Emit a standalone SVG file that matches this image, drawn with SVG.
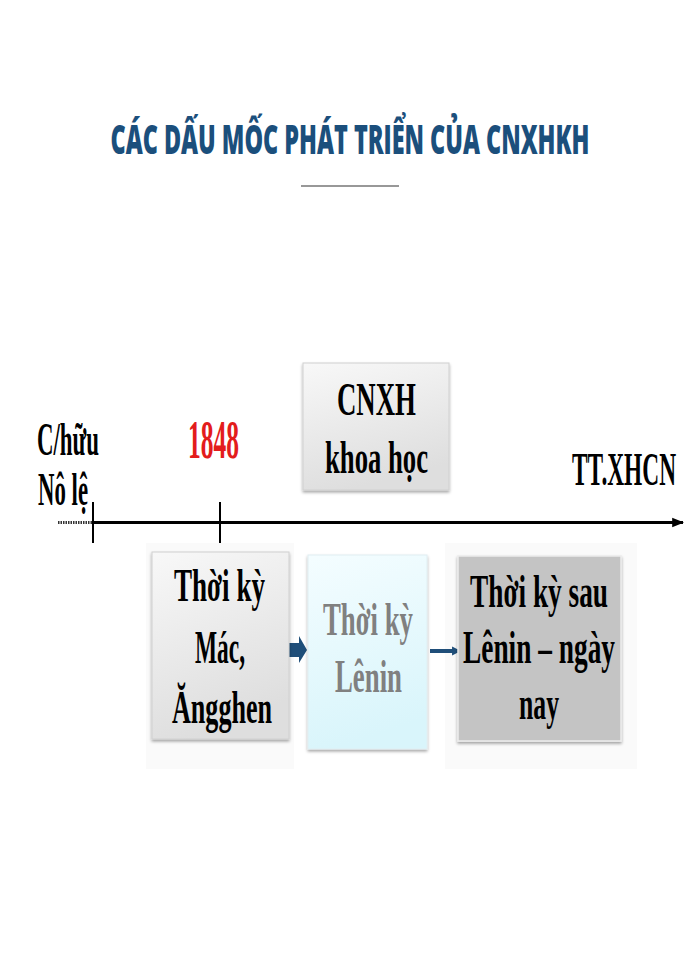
<svg xmlns="http://www.w3.org/2000/svg" width="700" height="960" viewBox="0 0 700 960">
<defs>
<linearGradient id="gGray" x1="0" y1="0" x2="0.3" y2="1">
<stop offset="0" stop-color="#f8f8f8"/>
<stop offset="1" stop-color="#dedede"/>
</linearGradient>
<linearGradient id="gCyan" x1="0" y1="0" x2="0.2" y2="1">
<stop offset="0" stop-color="#f4fdff"/>
<stop offset="1" stop-color="#d9f5fb"/>
</linearGradient>
<filter id="sh" x="-10%" y="-10%" width="120%" height="120%">
<feDropShadow dx="0" dy="2" stdDeviation="1.5" flood-color="#000" flood-opacity="0.35"/>
</filter>
<marker id="ah" viewBox="0 0 10 10" refX="9" refY="5" markerWidth="4" markerHeight="4" orient="auto" markerUnits="strokeWidth">
<path d="M0,1 L10,5 L0,9 Z" fill="#000"/>
</marker>
<marker id="ah2" viewBox="0 0 10 10" refX="9" refY="5" markerWidth="2.2" markerHeight="3" orient="auto" markerUnits="strokeWidth">
<path d="M0,0 L10,5 L0,10 Z" fill="#1f4e79"/>
</marker>
</defs>
<style>
.t{font-family:"Liberation Serif","Times New Roman",serif;font-weight:bold;font-size:46px;fill:#000;}
.g{fill:#808080;}
.title{font-family:"Open Sans","Liberation Sans",sans-serif;font-weight:800;font-size:40px;fill:#1b4f7c;}
</style>
<rect width="700" height="960" fill="#fff"/>
<rect x="146" y="543" width="148" height="226" fill="#fafafa"/>
<rect x="445" y="543" width="192" height="226" fill="#fafafa"/>

<g id="title">
<text class="title" x="350" y="154" text-anchor="middle" textLength="479" lengthAdjust="spacingAndGlyphs">CÁC DẤU MỐC PHÁT TRIỂN CỦA CNXHKH</text>
<line x1="301" y1="186" x2="399" y2="186" stroke="#333" stroke-width="1.2"/>
</g>

<g id="connectors">
<line x1="58" y1="522.5" x2="93" y2="522.5" stroke="#333" stroke-width="3" stroke-dasharray="1.5,1"/>
<line x1="93" y1="522.5" x2="683" y2="522.5" stroke="#000" stroke-width="3" marker-end="url(#ah)"/>
<line x1="93" y1="502" x2="93" y2="543" stroke="#000" stroke-width="2"/>
<line x1="220" y1="502" x2="220" y2="543" stroke="#000" stroke-width="2"/>
<path d="M288,643 L299,643 L299,636 L307,650 L299,663 L299,657 L288,657 Z" fill="#1f4e79"/>
<line x1="430" y1="651" x2="460" y2="651" stroke="#1f4e79" stroke-width="4" marker-end="url(#ah2)"/>
</g>

<g id="label-chuu">
<text class="t" x="37" y="455" textLength="62" lengthAdjust="spacingAndGlyphs" font-size="42">C/hữu</text>
<text class="t" x="38" y="505" textLength="50" lengthAdjust="spacingAndGlyphs" font-size="42">Nô lệ</text>
</g>

<g id="label-1848">
<text class="t" x="188" y="458" textLength="51" lengthAdjust="spacingAndGlyphs" style="fill:#e31c1c;font-size:54px">1848</text>
</g>

<g id="node-cnxh">
<rect x="303" y="363" width="146" height="127" fill="url(#gGray)" stroke="#d0d0d0" stroke-width="1" filter="url(#sh)"/>
<text class="t" x="337" y="415" textLength="79" lengthAdjust="spacingAndGlyphs">CNXH</text>
<text class="t" x="325" y="473" textLength="103" lengthAdjust="spacingAndGlyphs">khoa học</text>
</g>

<g id="label-ttxhcn">
<text class="t" x="572" y="485" textLength="104" lengthAdjust="spacingAndGlyphs" font-size="44">TT.XHCN</text>
</g>

<g id="node-mac">
<rect x="152" y="552" width="137" height="187" fill="url(#gGray)" stroke="#d0d0d0" stroke-width="1" filter="url(#sh)"/>
<text class="t" x="174" y="601" textLength="91" lengthAdjust="spacingAndGlyphs">Thời kỳ</text>
<text class="t" x="195" y="663" textLength="50" lengthAdjust="spacingAndGlyphs">Mác,</text>
<text class="t" x="172" y="723" textLength="100" lengthAdjust="spacingAndGlyphs">Ăngghen</text>
</g>

<g id="node-lenin">
<rect x="308" y="555" width="119" height="194" fill="url(#gCyan)" stroke="#e0eef2" stroke-width="1" filter="url(#sh)"/>
<text class="t g" x="323" y="635" textLength="90" lengthAdjust="spacingAndGlyphs">Thời kỳ</text>
<text class="t g" x="335" y="692" textLength="67" lengthAdjust="spacingAndGlyphs">Lênin</text>
</g>

<g id="node-sau">
<rect x="458" y="556" width="163" height="185" fill="#c4c4c4" stroke="#ececec" stroke-width="1.5" filter="url(#sh)"/>
<text class="t" x="470" y="607" textLength="138" lengthAdjust="spacingAndGlyphs">Thời kỳ sau</text>
<text class="t" x="463" y="663" textLength="152" lengthAdjust="spacingAndGlyphs">Lênin – ngày</text>
<text class="t" x="519" y="719" textLength="40" lengthAdjust="spacingAndGlyphs">nay</text>
</g>
</svg>
